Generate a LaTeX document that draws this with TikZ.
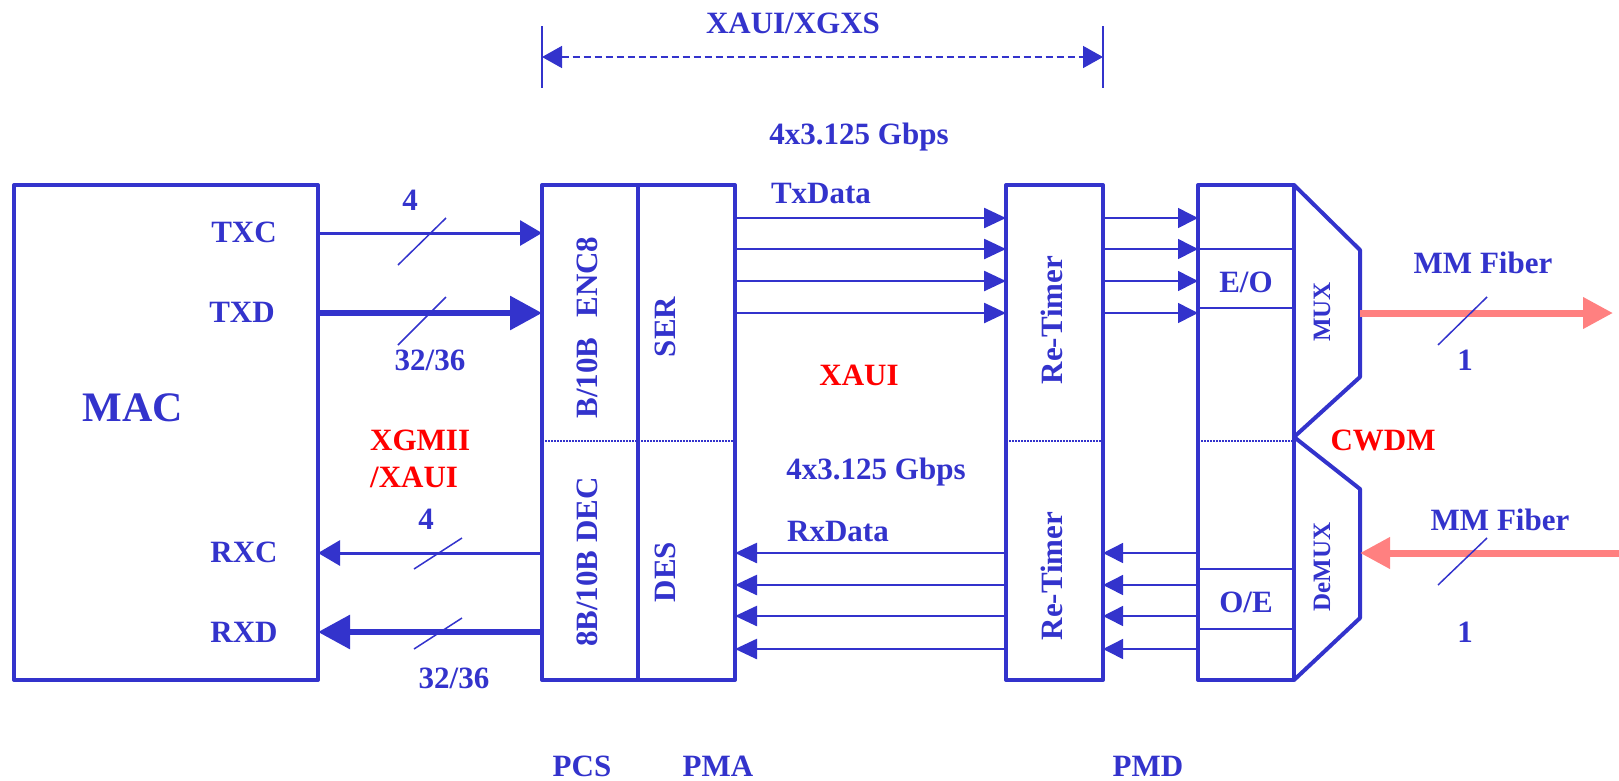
\documentclass[tikz,border=0pt]{standalone}
\usepackage{fontspec}
\setmainfont{Liberation Serif}
\usetikzlibrary{arrows.meta}
\definecolor{bl}{HTML}{3333CC}
\definecolor{pk}{HTML}{FF8080}
\definecolor{rd}{HTML}{FF0000}
\begin{document}
\begin{tikzpicture}[x=1pt,y=-1pt,
  blk/.style={draw=bl, line width=4pt, inner sep=0pt, outer sep=0pt, minimum height=495pt, line join=round},
  lbl/.style={text=bl, font=\fontsize{31}{37}\selectfont\bfseries, inner sep=0pt},
  redlbl/.style={text=rd, font=\fontsize{31}{37}\selectfont\bfseries, inner sep=0pt},
  small/.style={text=bl, font=\fontsize{25}{30}\selectfont\bfseries, inner sep=0pt},
  ctl/.style={draw=bl, line width=3pt, -{Triangle[length=22pt,width=25pt]}},
  dat/.style={draw=bl, line width=6pt, -{Triangle[length=32pt,width=33pt]}},
  lane/.style={draw=bl, line width=2.5pt, -{Triangle[length=22pt,width=20pt]}},
  thinlane/.style={draw=bl, line width=1.5pt, -{Triangle[length=20pt,width=20pt]}},
  slash/.style={draw=bl, line width=1.5pt},
  dots/.style={draw=bl, line width=1.5pt, dash pattern=on 1.5pt off 1.5pt},
  fiber/.style={draw=pk, line width=7pt, -{Triangle[length=30pt,width=30pt]}}
]
\useasboundingbox (0,0) rectangle (1619,780);

% blocks
\node[blk, minimum width=304pt] (MAC) at (166,432.5) {};
\node[blk, minimum width=96pt] (PCS) at (590,432.5) {};
\node[blk, minimum width=97pt] (PMA) at (686.5,432.5) {};
\node[blk, minimum width=97pt] (RT) at (1054.5,432.5) {};
\node[blk, minimum width=96pt] (EO) at (1246,432.5) {};

% MUX / DeMUX outline
\draw[bl, line width=4pt, line join=round] (EO.north east) -- (1360,250) -- (1360,377) -- (EO.east |- 0,437) -- (1360,489) -- (1360,618) -- (EO.south east);

% dotted separators
\draw[dots] (PCS.west |- 0,441) -- (PMA.east |- 0,441);
\draw[dots] (RT.west |- 0,441) -- (RT.east |- 0,441);
\draw[dots] (EO.west |- 0,441) -- (EO.east |- 0,441);

% E/O and O/E cells
\foreach \yy in {249,308,569,629}
  \draw[bl, line width=2pt] (EO.west |- 0,\yy) -- (EO.east |- 0,\yy);

% texts in blocks
\node[lbl, font=\fontsize{42}{50}\selectfont\bfseries] (mact) at (133,408) {MAC};
\node[lbl] (txct) at (244,232) {TXC};
\node[lbl] (txdt) at (242,312) {TXD};
\node[lbl] (rxct) at (244,552) {RXC};
\node[lbl] (rxdt) at (244,632) {RXD};
\node[lbl, rotate=90] (enc) at (587,327.5) {B/10B\hspace{20pt}ENC8};
\node[lbl, rotate=90] (dec) at (587,562) {8B/10B DEC};
\node[lbl, rotate=90] (ser) at (665,327) {SER};
\node[lbl, rotate=90] (des) at (665,572) {DES};
\node[lbl, rotate=90] (rt1) at (1052,320) {Re-Timer};
\node[lbl, rotate=90] (rt2) at (1052,576) {Re-Timer};
\node[lbl] (eot) at (1246,282) {E/O};
\node[lbl] (oet) at (1246,602) {O/E};
\node[small, rotate=90] (muxt) at (1322,312) {MUX};
\node[small, rotate=90] (demuxt) at (1322,567) {DeMUX};
\node[redlbl] (cwdm) at (1383,440) {CWDM};

% MAC <-> PCS
\draw[ctl] (MAC.east |- 0,233) -- (PCS.west |- 0,233);
\draw[dat] (MAC.east |- 0,313) -- (PCS.west |- 0,313);
\draw[ctl] (PCS.west |- 0,553) -- (MAC.east |- 0,553);
\draw[dat] (PCS.west |- 0,632) -- (MAC.east |- 0,632);
\draw[slash] (398,265) -- (446,218);
\draw[slash] (398,345) -- (446,297);
\draw[slash] (414,569) -- (462,538);
\draw[slash] (414,649) -- (462,618);
\node[lbl] (n4a) at (410,200) {4};
\node[lbl] (n32a) at (430,360) {32/36};
\node[lbl] (n4b) at (426,519) {4};
\node[lbl] (n32b) at (454,678) {32/36};
\node[redlbl, align=left, anchor=west] (xgmii) at (370,459) {XGMII\\/XAUI};

% PMA <-> Re-Timer lanes
\foreach \yy in {218,249,281,313}
  \draw[lane] (PMA.east |- 0,\yy) -- (RT.west |- 0,\yy);
\foreach \yy in {553,585,616,649}
  \draw[lane] (RT.west |- 0,\yy) -- (PMA.east |- 0,\yy);

% Re-Timer <-> E/O lanes
\foreach \yy in {218,249,281,313}
  \draw[thinlane] (RT.east |- 0,\yy) -- (EO.west |- 0,\yy);
\foreach \yy in {553,585,616,649}
  \draw[thinlane] (EO.west |- 0,\yy) -- (RT.east |- 0,\yy);

\node[lbl] (rate1) at (859,137) {4x3.125 Gbps};
\node[lbl] (txdata) at (821,193) {TxData};
\node[redlbl] (xaui) at (859,375) {XAUI};
\node[lbl] (rate2) at (876,472) {4x3.125 Gbps};
\node[lbl] (rxdata) at (838,531) {RxData};

% XAUI/XGXS span
\coordinate (dl) at (542,57);
\coordinate (dr) at (1103,57);
\draw[bl, line width=1.5pt] (542,26) -- (542,88);
\draw[bl, line width=1.5pt] (1103,26) -- (1103,88);
\draw[bl, line width=1.5pt, dash pattern=on 7pt off 4pt, {Triangle[length=20pt,width=22pt]}-{Triangle[length=20pt,width=22pt]}] (dl) -- (dr);
\node[lbl] (xgxs) at (793,23) {XAUI/XGXS};

% fibers
\coordinate (muxo) at (1360,313);
\coordinate (fibout) at (1613,313);
\coordinate (fibin) at (1619,553);
\coordinate (demuxi) at (1360,553);
\draw[fiber] (muxo) -- (fibout);
\draw[fiber] (fibin) -- (demuxi);
\draw[slash] (1438,345) -- (1487,297);
\draw[slash] (1438,585) -- (1487,538);
\node[lbl] (mm1) at (1483,263) {MM Fiber};
\node[lbl] (mm2) at (1500,520) {MM Fiber};
\node[lbl] (one1) at (1465,360) {1};
\node[lbl] (one2) at (1465,632) {1};

% layer labels
\node[lbl] (pcs) at (582,766) {PCS};
\node[lbl] (pma) at (718,766) {PMA};
\node[lbl] (pmd) at (1148,766) {PMD};
\end{tikzpicture}
\end{document}
